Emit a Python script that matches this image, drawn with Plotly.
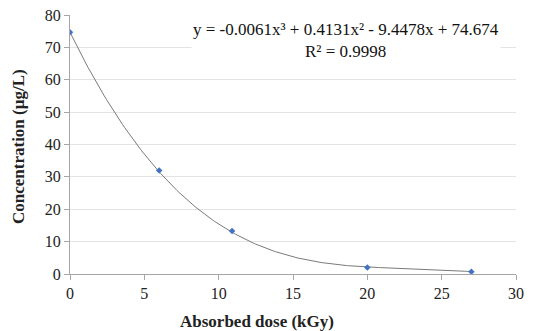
import numpy as np
import plotly.graph_objects as go

dose = [0, 6, 10.9, 20, 27]
conc = [74.7, 32.0, 13.3, 2.0, 0.7]
coef = [-0.0061, 0.4131, -9.4478, 74.674]  # trendline coefficients (x^3..x^0)
eq_text = "y = -0.0061x³ + 0.4131x² - 9.4478x + 74.674<br>R² = 0.9998"
x_ticks = [0, 5, 10, 15, 20, 25, 30]
y_ticks = [0, 10, 20, 30, 40, 50, 60, 70, 80]

xs = np.linspace(min(dose), max(dose), 200)
ys = np.polyval(coef, xs)

font = "Liberation Serif, Times New Roman, serif"

# page body has an 8px margin; size the figure so it fits the 549x331 window
W, H = 541, 323
L, T, R, B = 62, 7, 33, 57
pw, ph = W - L - R, H - T - B

def px(xp):  # window x pixel -> paper fraction
    return (xp - 8 - L) / pw

def py(yp):  # window y pixel -> paper fraction
    return (H - B - (yp - 8)) / ph

fig = go.Figure()
fig.add_trace(go.Scatter(x=xs, y=ys, mode="lines",
                         line=dict(color="#7a7a7a", width=1), hoverinfo="skip"))
fig.add_trace(go.Scatter(x=dose, y=conc, mode="markers",
                         marker=dict(symbol="diamond", size=5, color="#4472C4")))

fig.update_layout(
    width=W, height=H,
    margin=dict(l=L, r=R, t=T, b=B, autoexpand=False),
    paper_bgcolor="white", plot_bgcolor="white",
    showlegend=False,
    font=dict(family=font, size=16, color="#222"),
    xaxis=dict(range=[0, 30], tickvals=x_ticks, showgrid=False, zeroline=False,
               showline=True, linecolor="#a6a6a6", linewidth=1,
               ticks="outside", ticklen=5, tickcolor="#a6a6a6",
               tickfont=dict(size=16), automargin=False,
               ticklabeloverflow="allow"),
    yaxis=dict(range=[0, 80], tickvals=y_ticks, showgrid=True, gridcolor="#e3e3e3",
               zeroline=False, showline=True, linecolor="#a6a6a6", linewidth=1,
               ticks="outside", ticklen=5, tickcolor="#a6a6a6",
               tickfont=dict(size=16), automargin=False,
               ticklabeloverflow="allow"),
    annotations=[
        dict(text="<b>Absorbed dose (kGy)</b>", xref="paper", yref="paper",
             x=px(257), y=py(321), xanchor="center", yanchor="middle",
             showarrow=False, font=dict(size=17, family=font)),
        dict(text="<b>Concentration (µg/L)</b>", xref="paper", yref="paper",
             x=px(18), y=py(147), textangle=-90, xanchor="center", yanchor="middle",
             showarrow=False, font=dict(size=17, family=font)),
        dict(text=eq_text, xref="paper", yref="paper",
             x=px(346), y=py(40), xanchor="center", yanchor="middle",
             showarrow=False, bgcolor="white", align="center",
             font=dict(size=17, family=font, color="#111")),
    ],
)

fig.write_html("out.html")
